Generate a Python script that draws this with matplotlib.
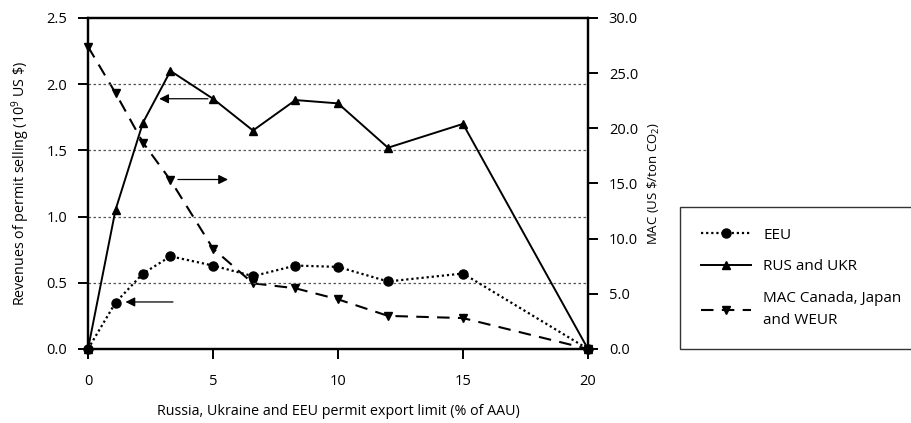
import numpy as np
import matplotlib
matplotlib.use("Agg")
from matplotlib import pyplot as plt
from matplotlib.ticker import FormatStrFormatter

plt.rcParams['font.family'] = ['Open Sans', 'DejaVu Sans']
plt.rcParams['mathtext.fontset'] = 'custom'
plt.rcParams['mathtext.rm'] = 'Open Sans'
plt.rcParams['mathtext.it'] = 'Open Sans'

# export limit (% of AAU)
limit = [0, 1.1, 2.2, 3.3, 5, 6.6, 8.3, 10, 12, 15, 20]
# revenues (10^9 US $)
eeu = [0, 0.35, 0.57, 0.70, 0.63, 0.55, 0.63, 0.62, 0.51, 0.57, 0]
rus_ukr = [0, 1.05, 1.71, 2.10, 1.89, 1.65, 1.88, 1.855, 1.52, 1.70, 0]
# MAC (US $/ton CO2)
mac = [27.4, 23.2, 18.7, 15.3, 9.1, 5.95, 5.5, 4.5, 3.0, 2.8, 0]

# arrows: (start x, start y, end x, end y) in left-axis units
arrows = [(4.8, 1.89, 2.85, 1.89),
          (3.6, 1.28, 5.6, 1.28),
          (3.4, 0.355, 1.5, 0.355)]

fig = plt.figure(figsize=(9.11, 4.23), dpi=100)
ax = fig.add_axes([0.0966, 0.175, 0.5488, 0.7825])
ax2 = ax.twinx()

for y in [0.5, 1.0, 1.5, 2.0]:
    ax.axhline(y, color='#555555', lw=0.9, ls=(0, (2, 2)), zorder=0)

l1, = ax.plot(limit, eeu, color='black', lw=1.6, ls=(0, (1, 1.3)), marker='o', ms=6.5,
              label='EEU', clip_on=False, zorder=4)
l2, = ax.plot(limit, rus_ukr, color='black', lw=1.4, marker='^', ms=6,
              label='RUS and UKR', clip_on=False, zorder=4)
l3, = ax2.plot(limit, mac, color='black', lw=1.5, ls=(0, (6, 4)), marker='v', ms=6,
               label='MAC Canada, Japan\nand WEUR', clip_on=False, zorder=4)

for x0, y0, x1, y1 in arrows:
    ax.annotate('', xy=(x1, y1), xytext=(x0, y0),
                arrowprops=dict(arrowstyle='-|>', color='black', lw=0.9,
                                mutation_scale=14, shrinkA=0, shrinkB=0))

ax.set_xlim(0, 20)
ax.set_ylim(0, 2.5)
ax2.set_ylim(0, 30)
ax.set_xticks([0, 5, 10, 15, 20])
ax.set_yticks(np.arange(0, 2.51, 0.5))
ax2.set_yticks(np.arange(0, 30.1, 5))
ax.yaxis.set_major_formatter(FormatStrFormatter('%.1f'))
ax2.yaxis.set_major_formatter(FormatStrFormatter('%.1f'))

for a in (ax, ax2):
    for s in a.spines.values():
        s.set_linewidth(1.6)
    a.tick_params(direction='out', length=7, width=1.4, labelsize=10.5, pad=8)
ax.tick_params(axis='x', pad=11)

ax.set_xlabel('Russia, Ukraine and EEU permit export limit (% of AAU)', fontsize=10.3, labelpad=11)
ax.set_ylabel('Revenues of permit selling (10$^{9}$ US \\$)', fontsize=10.3, labelpad=10)
ax2.set_ylabel('MAC (US \\$/ton CO$_{2}$)', fontsize=9.5, labelpad=6)

ax.set_zorder(ax2.get_zorder() + 1)
ax.patch.set_visible(False)

leg = fig.legend(handles=[l1, l2, l3], loc='upper left',
                 bbox_to_anchor=(680 / 911, 76 / 423, 0.26, 140 / 423),
                 mode='expand', frameon=True, fancybox=False, edgecolor='black',
                 fontsize=11, handlelength=3.3, borderaxespad=0, borderpad=1.35,
                 labelspacing=1.1, handletextpad=0.8)
leg.get_texts()[2].set_linespacing(1.65)
leg.get_frame().set_linewidth(1.0)

fig.savefig('out.png', dpi=100)
